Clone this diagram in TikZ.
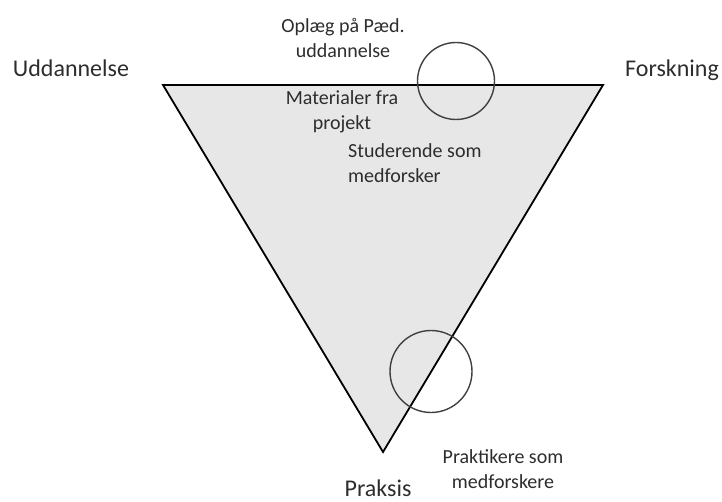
\documentclass[tikz,border=0pt]{standalone}
\usepackage{fontspec}
\setmainfont{Carlito}
\definecolor{inkgray}{RGB}{45,45,45}
\definecolor{tri fill}{RGB}{231,231,231}
\begin{document}
\begin{tikzpicture}[x=1pt,y=-1pt,
  corner/.style={font=\fontsize{24}{29}\selectfont, text=inkgray, inner sep=0pt, anchor=base},
  note/.style={font=\fontsize{20}{25}\selectfont, text=inkgray, inner sep=0pt, anchor=base, align=center},
  ring/.style={draw=black!75, line width=1.4pt}]
\useasboundingbox (0,0) rectangle (722,502);

% the triangle: education, research, practice
\coordinate (tl) at (163,85);
\coordinate (tr) at (603,85);
\coordinate (bt) at (383,452);
\fill[tri fill] (tl) -- (tr) -- (bt) -- cycle;
\draw[black, line width=1.8pt, line join=miter] (tl) -- (tr) -- (bt) -- cycle;

% overlap rings
\draw[ring] (456,81) circle[radius=38.5];
\draw[ring] (431,371.5) circle[radius=41];

% corner labels
\node[corner] (udd) at (71,77) {Uddannelse};
\node[corner, anchor=base west] (forsk) at (625,77) {Forskning};
\node[corner] (praksis) at (378,496) {Praksis};

% notes (base anchor sits on the last line)
\node[note] (oplaeg) at (343,58) {Oplæg på Pæd.\\uddannelse};
\node[note] (mat) at (342,130) {Materialer fra\\projekt};
\node[note, align=left, anchor=base west] (stud) at (348,183) {Studerende som\\medforsker};
\node[note] (prakt) at (503,488) {Praktikere som\\medforskere};
\end{tikzpicture}
\end{document}
